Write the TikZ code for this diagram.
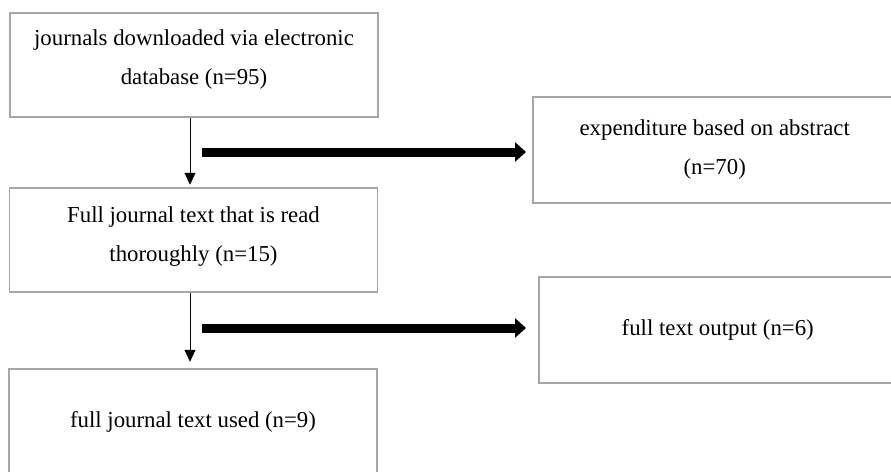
\documentclass[tikz,border=0pt]{standalone}
\usepackage{fontspec}
\setmainfont{Liberation Serif}
\usetikzlibrary{arrows.meta}
\usetikzlibrary{positioning}

\definecolor{boxgray}{RGB}{166,166,166}
\tikzset{
    box/.style={draw=boxgray, line width=1.5pt, inner sep=0pt, align=center,
        minimum height=104pt, font=\fontsize{22.8}{39}\selectfont},
    textup/.style={text depth=#1},
    thinarrow/.style={-{Triangle[length=12pt,width=11pt]}, line width=1pt},
    fatarrow/.style={-{Triangle[length=11pt,width=19pt]}, line width=9pt},
}

\begin{document}
\begin{tikzpicture}[x=1pt, y=-1pt]
        \useasboundingbox (0,0) rectangle (891,471); % Page frame
        \clip (0,0) rectangle (891,471);

        % Left column
        \node[box, textup=15pt, minimum width=368pt] (downloaded) at (194,65) {journals downloaded via electronic\\database (n=95)};
        \node[box, textup=12.5pt, minimum width=368pt] (read) at (193.5,240) {Full journal text that is read\\thoroughly (n=15)};
        \node[box, minimum width=368pt, minimum height=105pt] (used) at (193,421.5) {full journal text used (n=9)};

        % Right column (boxes run past the right edge)
        \node[box, anchor=west, minimum width=440pt, minimum height=106pt] (abstract) at (532,150)
            {\parbox{364pt}{\centering expenditure based on abstract\\(n=70)}\hspace*{76pt}};
        \node[box, anchor=west, minimum width=440pt, minimum height=106pt] (output) at (538,330)
            {\parbox{358pt}{\centering full text output (n=6)}\hspace*{82pt}};

        % Down arrows
        \draw[thinarrow, shorten >=2.5pt] ([xshift=-4pt]downloaded.south) -- ([xshift=-3.5pt]read.north);
        \draw[thinarrow, shorten >=6.5pt] ([xshift=-3.5pt]read.south) -- ([xshift=-3pt]used.north);

        % Side arrows
        \coordinate (exclude1) at (202,152);
        \coordinate (exclude2) at (202,328);
        \draw[fatarrow, shorten >=6pt] (exclude1) -- (exclude1 -| abstract.west);
        \draw[fatarrow, shorten >=12pt] (exclude2) -- (exclude2 -| output.west);
\end{tikzpicture}
\end{document}
